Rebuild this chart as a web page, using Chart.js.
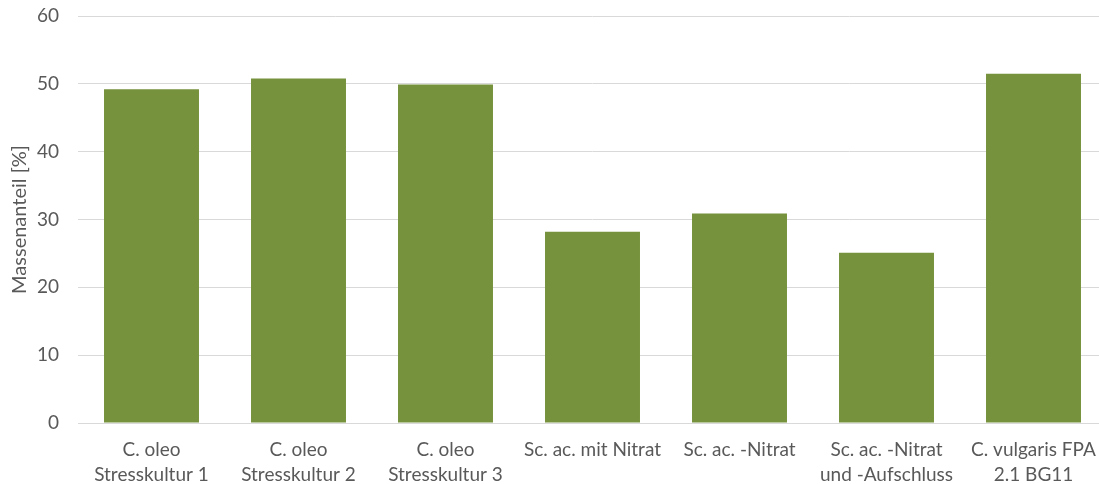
<!DOCTYPE html>
<html>
<head>
<meta charset="utf-8">
<script src="https://cdn.jsdelivr.net/npm/chart.js@4.4.1/dist/chart.umd.min.js"></script>
<style>
  html, body { margin: 0; padding: 0; background: #ffffff; overflow: hidden; }
  #wrap { position: relative; width: 1108px; height: 484px; }
</style>
</head>
<body>
<div id="wrap"><canvas id="chart"></canvas></div>
<script>
// Lipid mass fraction per culture
const categories = [
  ['C. oleo', 'Stresskultur 1'],
  ['C. oleo', 'Stresskultur 2'],
  ['C. oleo', 'Stresskultur 3'],
  'Sc. ac. mit Nitrat',
  'Sc. ac. -Nitrat',
  ['Sc. ac. -Nitrat', 'und -Aufschluss'],
  ['C. vulgaris FPA', '2.1 BG11']
];
const massenanteil = [49.2, 50.8, 49.9, 28.2, 30.9, 25.1, 51.5];
const yTicks = [0, 10, 20, 30, 40, 50, 60];

const FONT = 'Lato, "Open Sans", sans-serif';
const TEXT = '#595959';
const GRID = '#d9d9d9';

new Chart(document.getElementById('chart'), {
  type: 'bar',
  data: {
    labels: categories,
    datasets: [{
      label: 'Massenanteil',
      data: massenanteil,
      backgroundColor: '#76923c',
      borderWidth: 0,
      categoryPercentage: 1.0,
      barPercentage: 0.646
    }]
  },
  options: {
    responsive: true,
    maintainAspectRatio: false,
    animation: false,
    layout: { padding: { top: 16, right: 1, left: 0, bottom: 0 } },
    plugins: { legend: { display: false }, tooltip: { enabled: false } },
    scales: {
      x: {
        grid: { display: false, drawTicks: false },
        border: { display: true, color: GRID, width: 1 },
        ticks: {
          color: TEXT,
          font: { family: FONT, size: 19, lineHeight: 1.32 },
          padding: 14,
          maxRotation: 0,
          autoSkip: false
        },
        afterFit: s => { s.height = 61; s.paddingLeft = 0; s.paddingRight = 0; }
      },
      y: {
        min: 0,
        max: 60,
        afterBuildTicks: s => { s.ticks = yTicks.map(v => ({ value: v })); },
        grid: { color: GRID, lineWidth: 1, drawTicks: false },
        border: { display: false },
        ticks: {
          color: TEXT,
          font: { family: FONT, size: 19 },
          padding: 19
        },
        title: {
          display: true,
          text: 'Massenanteil [%]',
          color: TEXT,
          font: { family: FONT, size: 20 },
          padding: { top: 8, bottom: 0 }
        },
        afterFit: s => { s.width = 78; s.paddingTop = 0; s.paddingBottom = 0; }
      }
    }
  }
});
</script>
</body>
</html>
